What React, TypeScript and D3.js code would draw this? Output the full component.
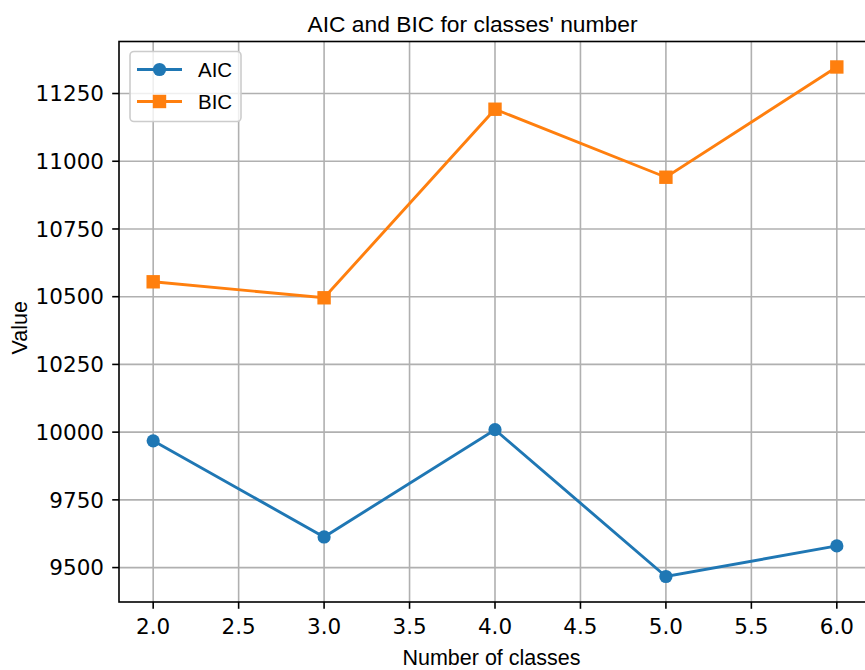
import React from 'react'
import * as d3 from 'd3'

const W = 865
const H = 670
const M = { left: 119, top: 41.5, right: 871, bottom: 602 }

const classes = [2, 3, 4, 5, 6]
const aic = [9968, 9613, 10009, 9467, 9580]
const bic = [10555, 10496, 11192, 10941, 11348]
const xTicks = [2.0, 2.5, 3.0, 3.5, 4.0, 4.5, 5.0, 5.5, 6.0]
const yTicks = [9500, 9750, 10000, 10250, 10500, 10750, 11000, 11250]

const BLUE = '#1f77b4'
const ORANGE = '#ff7f0e'
const TICK_FONT = 'DejaVu Sans, sans-serif'
const TEXT_FONT = 'Liberation Sans, Arial, sans-serif'
const R = 6.6
const SQ = 13.4

export default function App() {
  const allVals = [...aic, ...bic]
  const lo = d3.min(allVals)!
  const hi = d3.max(allVals)!
  const pad = (hi - lo) * 0.05

  const x = d3.scaleLinear().domain([1.8, 6.2]).range([M.left, M.right])
  const y = d3.scaleLinear().domain([lo - pad, hi + pad]).range([M.bottom, M.top])

  const line = d3.line<number>()
    .x((_, i) => x(classes[i]))
    .y(d => y(d))

  const cy = (M.top + M.bottom) / 2

  return (
    <svg width={W} height={H} style={{ position: 'absolute', left: 0, top: 0, background: '#fff' }}>
      {/* grid */}
      {xTicks.map(t => (
        <line key={'gx' + t} x1={x(t)} x2={x(t)} y1={M.top} y2={M.bottom} stroke="#b0b0b0" strokeWidth={1.6} />
      ))}
      {yTicks.map(t => (
        <line key={'gy' + t} x1={M.left} x2={M.right} y1={y(t)} y2={y(t)} stroke="#b0b0b0" strokeWidth={1.6} />
      ))}

      {/* lines */}
      <path d={line(aic) ?? ''} fill="none" stroke={BLUE} strokeWidth={2.9} />
      <path d={line(bic) ?? ''} fill="none" stroke={ORANGE} strokeWidth={2.9} />
      {aic.map((v, i) => (
        <circle key={'a' + i} cx={x(classes[i])} cy={y(v)} r={R} fill={BLUE} />
      ))}
      {bic.map((v, i) => (
        <rect key={'b' + i} x={x(classes[i]) - SQ / 2} y={y(v) - SQ / 2} width={SQ} height={SQ} fill={ORANGE} />
      ))}

      {/* spines */}
      <rect x={M.left} y={M.top} width={M.right - M.left} height={M.bottom - M.top} fill="none" stroke="#000" strokeWidth={1.6} />

      {/* x ticks */}
      {xTicks.map(t => (
        <g key={'xt' + t} transform={`translate(${x(t)},${M.bottom})`}>
          <line y1={0} y2={6.8} stroke="#000" strokeWidth={1.6} />
          <text y={32} textAnchor="middle" fontFamily={TICK_FONT} fontSize={21.5} fill="#000">
            {t.toFixed(1)}
          </text>
        </g>
      ))}

      {/* y ticks */}
      {yTicks.map(t => (
        <g key={'yt' + t} transform={`translate(${M.left},${y(t)})`}>
          <line x1={0} x2={-6.8} stroke="#000" strokeWidth={1.6} />
          <text x={-15} dy="0.36em" textAnchor="end" fontFamily={TICK_FONT} fontSize={21.5} fill="#000">
            {t}
          </text>
        </g>
      ))}

      {/* labels */}
      <text x={472.5} y={31.5} textAnchor="middle" fontFamily={TEXT_FONT} fontSize={22.8} fill="#000">
        AIC and BIC for classes' number
      </text>
      <text x={491.5} y={665} textAnchor="middle" fontFamily={TEXT_FONT} fontSize={21.5} fill="#000">
        Number of classes
      </text>
      <text transform={`translate(27,${cy + 6}) rotate(-90)`} textAnchor="middle" fontFamily={TEXT_FONT} fontSize={21.5} fill="#000">
        Value
      </text>

      {/* legend */}
      <g>
        <rect x={130} y={51.5} width={111} height={70} rx={4} fill="#fff" fillOpacity={0.8} stroke="#cccccc" strokeWidth={1.6} />
        <line x1={137} x2={182} y1={69.5} y2={69.5} stroke={BLUE} strokeWidth={2.9} />
        <circle cx={159.5} cy={69.5} r={R} fill={BLUE} />
        <text x={198} y={69.5} dy="0.36em" fontFamily={TEXT_FONT} fontSize={20.5} fill="#000">AIC</text>
        <line x1={137} x2={182} y1={101.5} y2={101.5} stroke={ORANGE} strokeWidth={2.9} />
        <rect x={159.5 - SQ / 2} y={101.5 - SQ / 2} width={SQ} height={SQ} fill={ORANGE} />
        <text x={198} y={101.5} dy="0.36em" fontFamily={TEXT_FONT} fontSize={20.5} fill="#000">BIC</text>
      </g>
    </svg>
  )
}
